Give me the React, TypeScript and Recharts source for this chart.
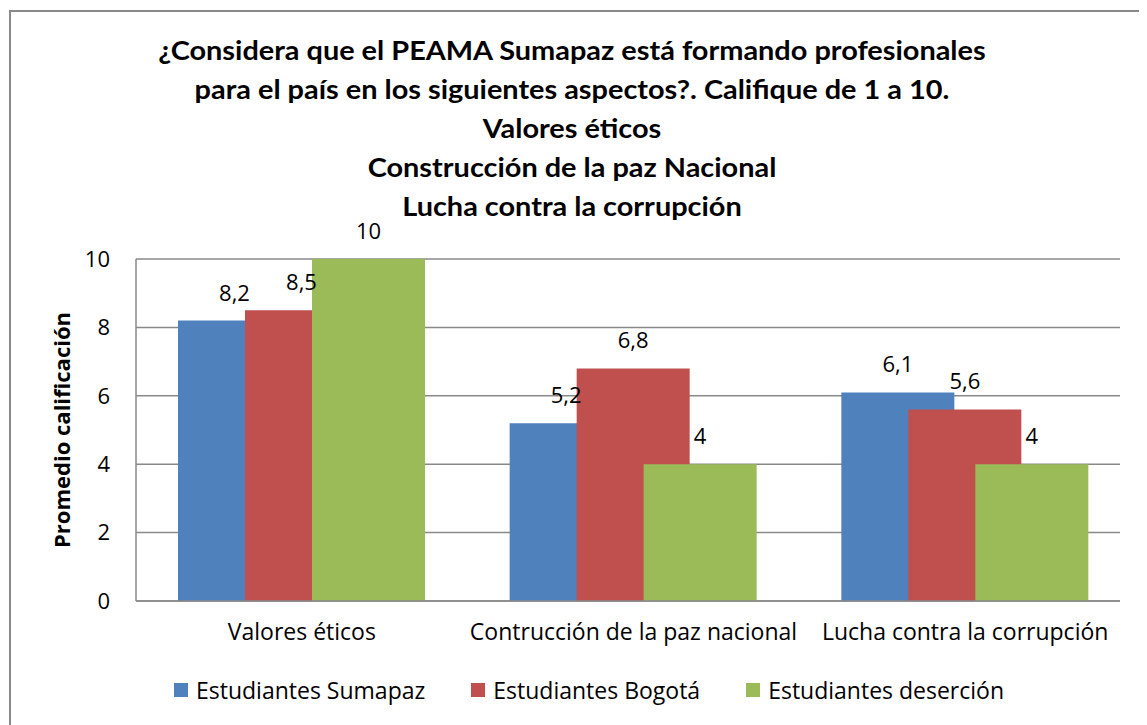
import React from 'react';
import { BarChart, Bar, XAxis, YAxis, CartesianGrid, Legend, LabelList, Label } from 'recharts';

const categories = ['Valores éticos', 'Contrucción de la paz nacional', 'Lucha contra la corrupción'];
const sumapaz = [8.2, 5.2, 6.1];
const bogota = [8.5, 6.8, 5.6];
const desercion = [10, 4, 4];
const yTicks = [0, 2, 4, 6, 8, 10];

const titleLines = [
  '¿Considera que el PEAMA Sumapaz está formando profesionales',
  'para el país en los siguientes aspectos?. Califique de 1 a 10.',
  'Valores éticos',
  'Construcción de la paz Nacional',
  'Lucha contra la corrupción',
];

const seriesInfo = [
  { key: 'sumapaz', name: 'Estudiantes Sumapaz', color: '#4F81BD' },
  { key: 'bogota', name: 'Estudiantes Bogotá', color: '#C0504D' },
  { key: 'desercion', name: 'Estudiantes deserción', color: '#9BBB59' },
];

const data = categories.map((c, i) => ({
  name: c,
  sumapaz: sumapaz[i],
  bogota: bogota[i],
  desercion: desercion[i],
}));

const FONT = '"Open Sans", Lato, sans-serif';
const TITLE_FONT = 'Lato, "Open Sans", sans-serif';

const fmt = (v: any) => String(v).replace('.', ',');

const LegendContent = () => (
  <div style={{ display: 'flex', alignItems: 'center', height: 40, paddingLeft: 166, fontFamily: FONT, fontSize: 23, color: '#000' }}>
    {seriesInfo.map((s, i) => (
      <div key={s.key} style={{ display: 'flex', alignItems: 'center', marginRight: i < 2 ? 46 : 0 }}>
        <span style={{ display: 'inline-block', width: 14, height: 14, background: s.color, marginRight: 8 }} />
        <span>{s.name}</span>
      </div>
    ))}
  </div>
);

export default function App() {
  return (
    <div style={{ position: 'relative', width: 1139, height: 717, overflow: 'hidden', background: '#fff' }}>
      <div
        style={{
          position: 'absolute',
          left: 1,
          top: 2,
          width: 1200,
          height: 800,
          border: '2px solid #898989',
          boxSizing: 'border-box',
        }}
      />
      <div
        style={{
          position: 'absolute',
          left: 0,
          top: 22,
          width: 1128,
          textAlign: 'center',
          fontFamily: TITLE_FONT,
          fontWeight: 'bold',
          fontSize: 27,
          lineHeight: '39px',
          color: '#000',
          zIndex: 2,
          transform: 'scaleX(1.07)',
          transformOrigin: '564px 0',
        }}
      >
        {titleLines.map((t) => (
          <div key={t}>{t}</div>
        ))}
      </div>
      <div style={{ position: 'absolute', left: 0, top: 0 }}>
        <BarChart
          width={1139}
          height={717}
          data={data}
          margin={{ top: 251, right: 27, left: 0, bottom: 15 }}
          barSize={113}
          barGap={-46}
        >
          <CartesianGrid vertical={false} stroke="#898989" strokeWidth={1.5} />
          <XAxis
            dataKey="name"
            height={69}
            padding={{ left: 0, right: -11 }}
            axisLine={{ stroke: '#898989', strokeWidth: 1.5 }}
            tickLine={false}
            tickSize={6}
            tickMargin={17}
            tick={{ fill: '#000', fontSize: 23, fontFamily: FONT }}
            interval={0}
          />
          <YAxis
            width={128}
            domain={[0, 10]}
            ticks={yTicks}
            axisLine={{ stroke: '#898989', strokeWidth: 1.5 }}
            tickLine={false}
            tickSize={6}
            tickMargin={20}
            tick={{ fill: '#000', fontSize: 22, fontFamily: FONT }}
          >
            <Label
              value="Promedio calificación"
              angle={-90}
              position="center"
              dx={-10}
              style={{ fontFamily: FONT, fontWeight: 'bold', fontSize: 22, fill: '#000' }}
            />
          </YAxis>
          <Legend verticalAlign="bottom" content={<LegendContent />} />
          {seriesInfo.map((s) => (
            <Bar key={s.key} dataKey={s.key} name={s.name} fill={s.color} isAnimationActive={false}>
              <LabelList
                dataKey={s.key}
                position="top"
                offset={20}
                formatter={fmt}
                style={{ fontFamily: FONT, fontSize: 22, fill: '#000' }}
              />
            </Bar>
          ))}
        </BarChart>
      </div>
    </div>
  );
}
